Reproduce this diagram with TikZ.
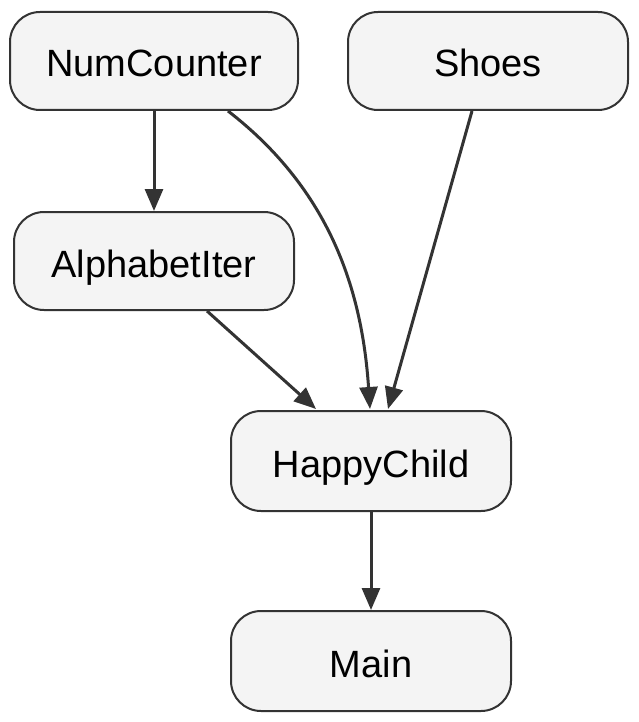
\documentclass[tikz,border=0pt]{standalone}
\usepackage{fontspec}
\setmainfont{Liberation Sans}
\usetikzlibrary{arrows.meta,calc}
\definecolor{boxfill}{HTML}{F4F4F4}
\definecolor{ink}{HTML}{333333}
\begin{document}
\begin{tikzpicture}[x=1pt,y=-1pt,
  box/.style={draw=ink,fill=boxfill,line width=2pt,rounded corners=30pt,
    minimum width=280pt,minimum height=98pt,inner sep=0pt,
    text height=32pt,text depth=0pt,
    font=\fontsize{38}{44}\selectfont,text=black},
  conn/.style={draw=ink,line width=3pt,-{Triangle[length=22pt,width=18pt]}}]
\useasboundingbox (0,0) rectangle (639,722);
\node[box,minimum width=288pt] (nc) at (154,61) {NumCounter};
\node[box] (sh) at (488,61) {Shoes};
\node[box] (ai) at (154,261) {AlphabetIter};
\node[box,minimum height=100pt] (hc) at (371,461) {HappyChild};
\node[box,minimum height=100pt] (mn) at (371,661) {Main};
\draw[conn] (nc.south) -- (ai.north);
\draw[conn] ($(nc.south)+(74,0)$) .. controls (330,190) and (362,290) .. ($(hc.north)+(-1,-1)$);
\draw[conn] ($(sh.south)+(-16,0)$) -- ($(hc.north)+(17,-1)$);
\draw[conn] ($(ai.south)+(53,0)$) -- ($(hc.north)+(-55,-1)$);
\draw[conn] (hc.south) -- (mn.north);
\end{tikzpicture}
\end{document}
